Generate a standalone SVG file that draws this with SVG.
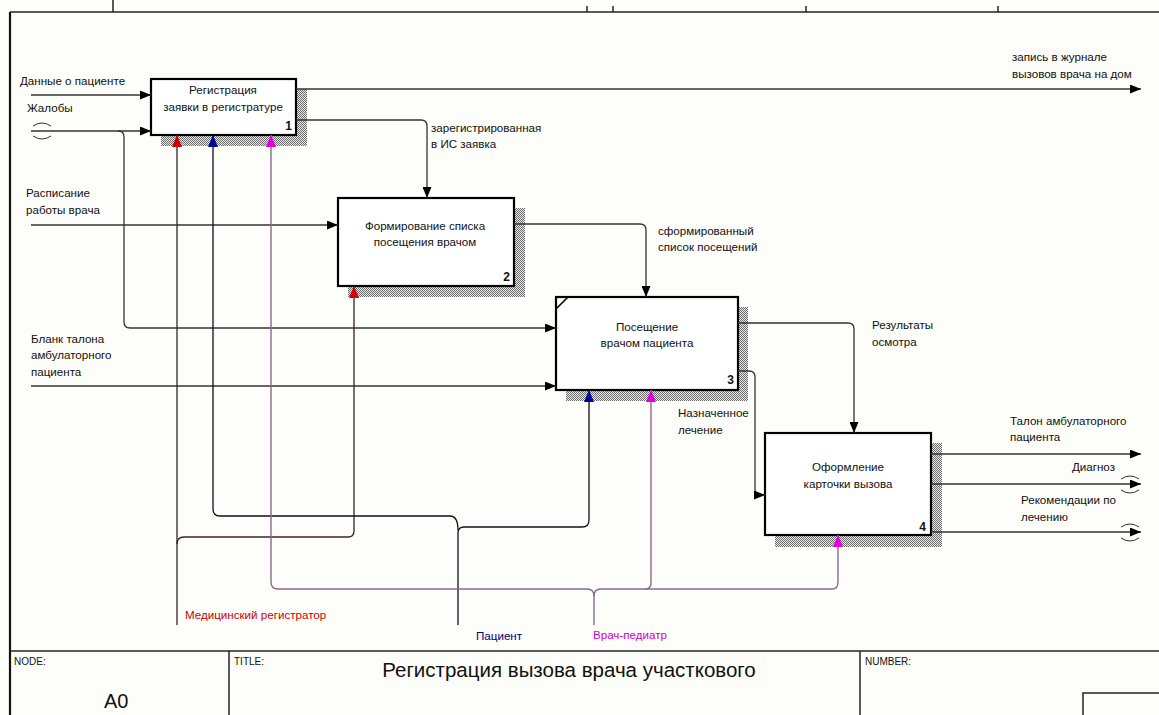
<svg xmlns="http://www.w3.org/2000/svg" width="1159" height="715" viewBox="0 0 1159 715">
<style>
text{font-family:"Liberation Sans",Arial,sans-serif;font-size:11.6px;fill:#111}
.c{text-anchor:middle}
.e{text-anchor:end}
.box{fill:#fff;stroke:#000;stroke-width:2.2}
.sh{fill:url(#hatch)}
.ln{fill:none;stroke:#333;stroke-width:1.3}
.red{fill:none;stroke:#3a2424;stroke-width:1.3}
.blu{fill:none;stroke:#10101e;stroke-width:1.3}
.mag{fill:none;stroke:#8a6a8a;stroke-width:1.4}
.tun{fill:none;stroke:#333;stroke-width:1}
.frm{fill:none;stroke:#222;stroke-width:1.5}
.small{font-size:10px}
.num{font-size:12px;font-weight:bold}
</style>
<defs>
<pattern id="hatch" width="2" height="2" patternUnits="userSpaceOnUse">
<rect width="2" height="2" fill="#e8e8e8"/>
<rect width="1" height="1" fill="#6e6e6e"/>
<rect x="1" y="1" width="1" height="1" fill="#6e6e6e"/>
</pattern>
<marker id="a" markerWidth="11" markerHeight="9" refX="11" refY="4.5" orient="auto" markerUnits="userSpaceOnUse"><path d="M0,0 L11,4.5 L0,9 z" fill="#000"/></marker>
<marker id="ar" markerWidth="12" markerHeight="10" refX="12" refY="5" orient="auto" markerUnits="userSpaceOnUse"><path d="M0,0 L12,5 L0,10 z" fill="#d00000"/></marker>
<marker id="ab" markerWidth="12" markerHeight="10" refX="12" refY="5" orient="auto" markerUnits="userSpaceOnUse"><path d="M0,0 L12,5 L0,10 z" fill="#00009a"/></marker>
<marker id="am" markerWidth="12" markerHeight="10" refX="12" refY="5" orient="auto" markerUnits="userSpaceOnUse"><path d="M0,0 L12,5 L0,10 z" fill="#e000e0"/></marker>
</defs>
<rect width="1159" height="715" fill="#fdfdf9"/>
<g id="frame">
<line class="frm" x1="10" y1="12" x2="1159" y2="12"/>
<line x1="10" y1="12" x2="10" y2="715" stroke="#111" stroke-width="2.2"/>
<line class="frm" x1="113" y1="0" x2="113" y2="12"/>
<line class="frm" x1="587" y1="6" x2="587" y2="12"/>
<line class="frm" x1="613" y1="6" x2="613" y2="12"/>
<line class="frm" x1="806" y1="6" x2="806" y2="12"/>
<line class="frm" x1="998" y1="6" x2="998" y2="12"/>
<line class="frm" x1="10" y1="651" x2="1159" y2="651"/>
<line class="frm" x1="229" y1="651" x2="229" y2="715"/>
<line class="frm" x1="860" y1="651" x2="860" y2="715"/>
<rect class="frm" x="1083" y="693" width="80" height="30"/>
<text class="small" x="14" y="665">NODE:</text>
<text class="small" x="234" y="665">TITLE:</text>
<text class="small" x="865" y="665">NUMBER:</text>
<text x="569" y="677" class="c" style="font-size:20.5px">Регистрация вызова врача участкового</text>
<text x="104" y="708" style="font-size:20px">A0</text>
</g>
<g id="box1">
<rect class="sh" x="161" y="89" width="146" height="57"/>
<rect class="box" x="151" y="79" width="145" height="56"/>
<text class="c" x="223" y="94">Регистрация</text>
<text class="c" x="223" y="111">заявки в регистратуре</text>
<text class="e num" x="292" y="130">1</text>
</g>
<g id="box2">
<rect class="sh" x="348" y="208" width="177" height="89"/>
<rect class="box" x="338" y="198" width="176" height="88"/>
<text class="c" x="425" y="230">Формирование списка</text>
<text class="c" x="425" y="246">посещения врачом</text>
<text class="e num" x="510" y="281">2</text>
</g>
<g id="box3">
<rect class="sh" x="566" y="307" width="182" height="94"/>
<rect class="box" x="556" y="297" width="182" height="93"/>
<line x1="556" y1="309" x2="568" y2="297" stroke="#000" stroke-width="1.6"/>
<text class="c" x="647" y="331">Посещение</text>
<text class="c" x="647" y="347">врачом пациента</text>
<text class="e num" x="734" y="384">3</text>
</g>
<g id="box4">
<rect class="sh" x="775" y="443" width="167" height="104"/>
<rect class="box" x="765" y="433" width="166" height="102"/>
<text class="c" x="848" y="471">Оформление</text>
<text class="c" x="848" y="488">карточки вызова</text>
<text class="e num" x="926" y="531">4</text>
</g>
<g id="connectors">
<path class="ln" d="M31 95 H151" marker-end="url(#a)"/>
<path class="ln" d="M31 131 H151" marker-end="url(#a)"/>
<path class="tun" d="M33 126 Q42 120 51 126 M33 136 Q42 142 51 136"/>
<path class="ln" d="M118 131 Q124 131 124 137 V322 Q124 328 130 328 H556" marker-end="url(#a)"/>
<path class="ln" d="M31 225 H338" marker-end="url(#a)"/>
<path class="ln" d="M31 386 H556" marker-end="url(#a)"/>
<path class="ln" d="M296 89 H1141" marker-end="url(#a)"/>
<path class="ln" d="M296 120 H421 Q427 120 427 126 V198" marker-end="url(#a)"/>
<path class="ln" d="M514 224 H640 Q646 224 646 230 V297" marker-end="url(#a)"/>
<path class="ln" d="M738 323 H848 Q854 323 854 329 V433" marker-end="url(#a)"/>
<path class="ln" d="M738 371 H749 Q755 371 755 377 V489 Q755 495 759 495 H765" marker-end="url(#a)"/>
<path class="ln" d="M931 454 H1141" marker-end="url(#a)"/>
<path class="ln" d="M931 484 H1141" marker-end="url(#a)"/>
<path class="ln" d="M931 532 H1141" marker-end="url(#a)"/>
<path class="tun" d="M1121 479 Q1130 473 1139 479 M1121 490 Q1130 496 1139 490"/>
<path class="tun" d="M1121 527 Q1130 521 1139 527 M1121 538 Q1130 544 1139 538"/>
<path class="red" d="M177 625 V135" marker-end="url(#ar)"/>
<path class="red" d="M177 544 Q177 537 184 537 H348 Q354 537 354 531 V286" marker-end="url(#ar)"/>
<path class="blu" d="M458 625 V533 Q458 527 464 527 H582 Q589 527 589 520 V390" marker-end="url(#ab)"/>
<path class="blu" d="M458 530 Q458 516 450 516 H220 Q213 516 213 509 V135" marker-end="url(#ab)"/>
<path class="mag" d="M594 625 V596"/>
<path class="mag" d="M594 596 Q594 589 587 589 H278 Q271 589 271 582 V135" marker-end="url(#am)"/>
<path class="mag" d="M594 596 Q594 589 601 589 H832 Q838 589 838 582 V535" marker-end="url(#am)"/>
<path class="mag" d="M645 589 Q651 589 651 583 V390" marker-end="url(#am)"/>
<text x="20" y="85">Данные о пациенте</text>
<text x="27" y="112">Жалобы</text>
<text x="26" y="197">Расписание</text>
<text x="26" y="214">работы врача</text>
<text x="31" y="343">Бланк талона</text>
<text x="31" y="359">амбулаторного</text>
<text x="31" y="376">пациента</text>
<text x="1012" y="61">запись в журнале</text>
<text x="1012" y="78">вызовов врача на дом</text>
<text x="431" y="132">зарегистрированная</text>
<text x="431" y="148">в ИС заявка</text>
<text x="658" y="235">сформированный</text>
<text x="658" y="251">список посещений</text>
<text x="872" y="329">Результаты</text>
<text x="872" y="346">осмотра</text>
<text x="678" y="417">Назначенное</text>
<text x="678" y="434">лечение</text>
<text x="1010" y="425">Талон амбулаторного</text>
<text x="1010" y="441">пациента</text>
<text class="e" x="1115" y="471">Диагноз</text>
<text x="1021" y="504">Рекомендации по</text>
<text x="1021" y="521">лечению</text>
<text x="185" y="619" style="fill:#cc0000">Медицинский регистратор</text>
<text x="476" y="640" style="fill:#000080">Пациент</text>
<text x="593" y="639" style="fill:#cc00cc">Врач-педиатр</text>
</g>
</svg>
